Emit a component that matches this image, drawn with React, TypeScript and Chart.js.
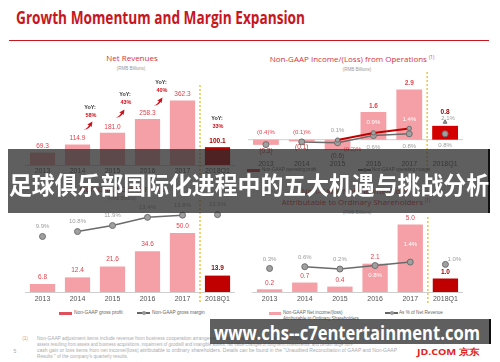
import React, { useEffect, useLayoutEffect, useRef } from 'react';
import { Chart, registerables } from 'chart.js';

Chart.register(...registerables);

const FONT = '"Liberation Sans", Arial, sans-serif';
const TITLE_FONT = '"Open Sans", "Liberation Sans", sans-serif';
Chart.defaults.font.family = FONT;

// ---------- data ----------
const YEARS = ['2013', '2014', '2015', '2016', '2017', '2018Q1'];
const NET_REVENUES = [69.3, 114.9, 181.0, 258.3, 362.3, 100.1];
const REVENUE_YOY = ['58%', '43%', '40%', '33%']; // 2015, 2016, 2017, 2018Q1
const OP_INCOME = [-0.3, -0.1, -0.6, 1.6, 2.9, 0.8];
const OP_MARGIN = [-0.4, -0.1, -0.2, 0.6, 0.8, 0.8];
const OP_MARGIN_2 = [null, null, 0.1, 0.9, 1.4, 2.1];
const GROSS_PROFIT = [6.8, 12.4, 21.6, 34.6, 50.0, 13.9];
const GROSS_MARGIN = [9.9, 10.8, 11.9, 13.4, 13.8, 13.9];
const NET_INCOME = [0.2, 0.7, 0.4, 2.1, 5.0, 1.0];
const NET_MARGIN = [0.3, 0.6, 0.2, 0.8, 1.4, 1.0];

// ---------- styles ----------
const PINK = '#f4a0a6';
const LBL_RED = '#e2434d';
const LBL_DARK = '#a00000';
const GRAY_TXT = '#9c9c9c';
const LINE_GRAY = '#6b6b6b';
const DASH = '#f2c237';
const TITLE_RED = '#c8161e';

const fmtNum = (v: number) => (v < 0 ? `(${Math.abs(v).toFixed(1)})` : v.toFixed(1));
const fmtPct = (v: number) => fmtNum(v) + '%';

function text(ctx: CanvasRenderingContext2D, s: string, x: number, y: number, color: string, size = 6.5, bold = false) {
  ctx.font = `${bold ? 'bold ' : ''}${size}px ${FONT}`;
  ctx.fillStyle = color;
  ctx.textAlign = 'center';
  ctx.textBaseline = 'middle';
  ctx.fillText(s, x, y);
}

function dashed(chart: any, top: number, bottom: number) {
  const ctx = chart.ctx;
  const x = chart.scales.x.getPixelForValue(4.5);
  ctx.save();
  ctx.strokeStyle = DASH;
  ctx.lineWidth = 1.5;
  ctx.setLineDash([2, 2]);
  ctx.beginPath();
  ctx.moveTo(x, top);
  ctx.lineTo(x, bottom);
  ctx.stroke();
  ctx.restore();
}

const seg = (color: string, hidden: number[]) => ({
  borderColor: (c: any) => (hidden.includes(c.p0DataIndex) ? 'rgba(0,0,0,0)' : color),
});

function barDs(data: number[], lastColor: string) {
  return {
    type: 'bar',
    data,
    yAxisID: 'y',
    backgroundColor: data.map((_, i) => (i === data.length - 1 ? lastColor : PINK)),
    barPercentage: 0.72,
    categoryPercentage: 1,
    order: 2,
  };
}

function lineDs(data: (number | null)[], color: string, hidden: number[], radius = 3, width = 1.5, order = 1) {
  return {
    type: 'line',
    data,
    yAxisID: 'y1',
    borderColor: color,
    borderWidth: width,
    pointRadius: radius,
    pointBackgroundColor: '#a0a0a0',
    pointBorderColor: '#6e6e6e',
    pointBorderWidth: 1,
    segment: seg(color, hidden),
    spanGaps: false,
    tension: 0,
    order,
  };
}

function config(o: any) {
  return {
    type: 'bar',
    data: { labels: YEARS, datasets: o.datasets },
    options: {
      responsive: false,
      maintainAspectRatio: false,
      animation: false,
      layout: { padding: 0, autoPadding: false },
      plugins: { legend: { display: false }, tooltip: { enabled: false }, title: { display: false } },
      scales: {
        x: {
          display: true,
          grid: { display: false, drawTicks: false },
          border: { display: o.border, color: '#cfcfcf', width: 1 },
          ticks: { color: '#555', font: { size: 7, family: FONT }, padding: o.tickPad, maxRotation: 0, autoSkip: false },
          afterFit: (s: any) => {
            s.height = o.axisH;
          },
        },
        y: { display: false, min: o.yMin, max: o.yMax },
        y1: { display: false, min: o.y1Min ?? 0, max: o.y1Max ?? 1, position: 'right' },
      },
    },
    plugins: o.plugins,
  };
}

// ---------- chart configs ----------
const topLeftConfig = () =>
  config({
    datasets: [barDs(NET_REVENUES, '#b80000')],
    yMin: 0,
    yMax: 505,
    axisH: 14,
    tickPad: 2,
    border: true,
    plugins: [
      {
        id: 'tlLabels',
        afterDatasetsDraw(chart: any) {
          const ctx = chart.ctx;
          ctx.save();
          dashed(chart, 10, chart.height);
          chart.getDatasetMeta(0).data.forEach((b: any, i: number) => {
            const last = i === 5;
            text(ctx, fmtNum(NET_REVENUES[i]), b.x, b.y - 6, last ? LBL_DARK : LBL_RED, 6.5, last);
          });
          ctx.restore();
        },
      },
    ],
  });

const OPM_OFF = [[0, -12], [0, -10], [15, 7], [0, 12], [0, 13], [0, 12]];
const OPM2_OFF = [null, null, [0, -10], [0, -11], [0, -9], [3, -4]];

const topRightConfig = () =>
  config({
    datasets: [
      barDs(OP_INCOME, '#d40000'),
      lineDs(OP_MARGIN, LINE_GRAY, [0, 4], 3, 1.5, 1),
      { ...lineDs(OP_MARGIN_2, '#c00000', [4], 2.2, 2, 0), pointStyle: ['circle', 'circle', 'circle', 'circle', 'circle', 'triangle'] },
    ],
    yMin: -1.06,
    yMax: 4.03,
    y1Min: -1.889,
    y1Max: 7.889,
    axisH: 14,
    tickPad: 2,
    border: false,
    plugins: [
      {
        id: 'trZero',
        beforeDatasetsDraw(chart: any) {
          const ctx = chart.ctx;
          const y = chart.scales.y.getPixelForValue(0);
          ctx.save();
          ctx.strokeStyle = '#cfcfcf';
          ctx.lineWidth = 1;
          ctx.beginPath();
          ctx.moveTo(chart.chartArea.left, y);
          ctx.lineTo(chart.chartArea.right, y);
          ctx.stroke();
          ctx.restore();
        },
      },
      {
        id: 'trLabels',
        afterDatasetsDraw(chart: any) {
          const ctx = chart.ctx;
          ctx.save();
          dashed(chart, 2, 100);
          chart.getDatasetMeta(0).data.forEach((b: any, i: number) => {
            const v = OP_INCOME[i];
            const last = i === 5;
            if (v < 0) text(ctx, fmtNum(v), b.x, b.y + 6, '#b53838', 6.5, false);
            else text(ctx, fmtNum(v), b.x, b.y - (last ? 14 : 6), last ? LBL_DARK : LBL_RED, 6.5, true);
          });
          chart.getDatasetMeta(1).data.forEach((p: any, i: number) => {
            const v = OP_MARGIN[i];
            const [dx, dy] = OPM_OFF[i];
            text(ctx, fmtPct(v), p.x + dx, p.y + dy, v < 0 ? LBL_RED : GRAY_TXT, 6);
          });
          chart.getDatasetMeta(2).data.forEach((p: any, i: number) => {
            const v = OP_MARGIN_2[i];
            const off = OPM2_OFF[i];
            if (v === null || !off) return;
            text(ctx, fmtPct(v), p.x + off[0], p.y + off[1], i === 3 || i === 4 ? '#ffffff' : GRAY_TXT, 6);
          });
          ctx.restore();
        },
      },
    ],
  });

const bottomLeftConfig = () =>
  config({
    datasets: [barDs(GROSS_PROFIT, '#c00000'), lineDs(GROSS_MARGIN, LINE_GRAY, [0, 4], 3, 1.5, 1)],
    yMin: 0,
    yMax: 78,
    y1Min: -0.266,
    y1Max: 16.58,
    axisH: 12,
    tickPad: 3,
    border: true,
    plugins: [
      {
        id: 'blLabels',
        afterDatasetsDraw(chart: any) {
          const ctx = chart.ctx;
          ctx.save();
          dashed(chart, 0, 103);
          chart.getDatasetMeta(0).data.forEach((b: any, i: number) => {
            const last = i === 5;
            text(ctx, fmtNum(GROSS_PROFIT[i]), b.x, b.y - 7, last ? LBL_DARK : LBL_RED, 6.5, last);
          });
          chart.getDatasetMeta(1).data.forEach((p: any, i: number) => {
            text(ctx, fmtPct(GROSS_MARGIN[i]), p.x, p.y - 10, GRAY_TXT, 6);
          });
          ctx.restore();
        },
      },
    ],
  });

const NM_OFF = [[0, -9.5], [0, -9], [0, -10], [0, 10], [0, -18], [9, -5]];

const bottomRightConfig = () =>
  config({
    datasets: [barDs(NET_INCOME, '#c00000'), lineDs(NET_MARGIN, LINE_GRAY, [0, 4], 3, 1.5, 1)],
    yMin: 0,
    yMax: 5.78,
    y1Min: -3.76,
    y1Max: 9.69,
    axisH: 12,
    tickPad: 3,
    border: true,
    plugins: [
      {
        id: 'brLabels',
        afterDatasetsDraw(chart: any) {
          const ctx = chart.ctx;
          ctx.save();
          dashed(chart, 3, 89);
          chart.getDatasetMeta(0).data.forEach((b: any, i: number) => {
            const last = i === 5;
            text(ctx, fmtNum(NET_INCOME[i]), b.x, b.y - 6, last ? LBL_DARK : LBL_RED, 6.5, last);
          });
          chart.getDatasetMeta(1).data.forEach((p: any, i: number) => {
            const [dx, dy] = NM_OFF[i];
            text(ctx, fmtPct(NET_MARGIN[i]), p.x + dx, p.y + dy, i === 3 || i === 4 ? '#ffffff' : GRAY_TXT, 6);
          });
          ctx.restore();
        },
      },
    ],
  });

// ---------- components ----------
function MiniChart({ left, top, width, height, make }: any) {
  const ref = useRef<HTMLCanvasElement>(null);
  useEffect(() => {
    const chart = new Chart(ref.current as HTMLCanvasElement, make() as any);
    return () => chart.destroy();
  }, []);
  return <canvas ref={ref} width={width} height={height} style={{ position: 'absolute', left, top, width, height }} />;
}

function T({ x, y, s = 6, c = '#444', b = false, al = 'c', f = FONT, children, z }: any) {
  return (
    <div
      style={{
        position: 'absolute',
        left: x,
        top: y,
        fontSize: s,
        color: c,
        fontWeight: b ? 700 : 400,
        fontFamily: f,
        whiteSpace: 'nowrap',
        lineHeight: 1,
        transform: al === 'c' ? 'translate(-50%,-50%)' : 'translate(0,-50%)',
        zIndex: z,
      }}
    >
      {children}
    </div>
  );
}

function Fit({ x, y, w, s, c = '#444', b = false, f = FONT, children, z }: any) {
  const ref = useRef<HTMLDivElement>(null);
  useLayoutEffect(() => {
    const el = ref.current;
    if (!el) return;
    el.style.transform = 'translate(0,-50%)';
    const nat = el.getBoundingClientRect().width;
    if (nat > 0) el.style.transform = `translate(0,-50%) scaleX(${w / nat})`;
  }, []);
  return (
    <div
      ref={ref}
      style={{
        position: 'absolute',
        left: x,
        top: y,
        fontSize: s,
        color: c,
        fontWeight: b ? 700 : 400,
        fontFamily: f,
        whiteSpace: 'nowrap',
        lineHeight: 1,
        transformOrigin: '0 50%',
        zIndex: z,
      }}
    >
      {children}
    </div>
  );
}

function Arrow({ x, y }: any) {
  return (
    <svg width={10} height={9} style={{ position: 'absolute', left: x - 5, top: y - 4.5 }} viewBox="0 0 10 9">
      <path d="M0.5 8.5 C3 8 5 6.5 6 4 L4.2 3.4 L9.5 0.5 L8.6 6 L7.4 4.9 C6.2 7.2 3.8 8.8 0.5 8.5 Z" fill="#d0101a" />
    </svg>
  );
}

function LegendLine({ x, y }: any) {
  return (
    <div style={{ position: 'absolute', left: x, top: y - 0.6, width: 13, height: 1.2, background: '#666' }}>
      <div style={{ position: 'absolute', left: 5, top: -1.2, width: 3.6, height: 3.6, borderRadius: 2, background: '#999' }} />
    </div>
  );
}

function Yoy({ x, y, pct, ax, ay }: any) {
  return (
    <>
      <T x={x} y={y} s={5.5} c="#333" b>
        YoY:
      </T>
      <T x={x + 1} y={y + 8} s={5.5} c="#d0101a" b>
        {pct}
      </T>
      {ax !== undefined && <Arrow x={ax} y={ay} />}
    </>
  );
}

export default function App() {
  useEffect(() => {
    document.body.style.margin = '0';
  }, []);
  return (
    <div style={{ position: 'absolute', left: 0, top: 0, width: 500, height: 362, overflow: 'hidden', background: '#fff' }}>
      {/* header */}
      <Fit x={16} y={17} w={289} s={17} c={TITLE_RED} b f={TITLE_FONT}>
        Growth Momentum and Margin Expansion
      </Fit>
      <div style={{ position: 'absolute', left: 9, top: 39.5, width: 480, height: 1.5, background: TITLE_RED }} />

      {/* titles */}
      <T x={132} y={58} s={8} c="#d8343c" f={TITLE_FONT}>
        Net Revenues
      </T>
      <T x={131} y={69} s={4.5} c="#999">
        (RMB Billions)
      </T>
      <T x={352} y={59} s={8} c="#d8343c" f={TITLE_FONT}>
        Non-GAAP Income/(Loss) from Operations <sup style={{ fontSize: 4.5 }}>(1)</sup>
      </T>
      <T x={357} y={70} s={4.5} c="#999">
        (RMB Billions)
      </T>
      <T x={122} y={189} s={8} c="#d8343c" f={TITLE_FONT}>
        Non-GAAP Gross Profit
      </T>
      <T x={122} y={199} s={4.5} c="#999">
        (RMB Billions)
      </T>
      <T x={356} y={191} s={8} c="#d8343c" f={TITLE_FONT}>
        Non-GAAP Net Income/(Loss)
      </T>
      <T x={356} y={202} s={8} c="#d8343c" f={TITLE_FONT}>
        Attributable to Ordinary Shareholders <sup style={{ fontSize: 4.5 }}>(1)</sup>
      </T>
      <T x={357} y={212.5} s={4.5} c="#999">
        (RMB Billions)
      </T>

      {/* charts */}
      <MiniChart left={25} top={75} width={210} height={104} make={topLeftConfig} />
      <MiniChart left={248} top={70} width={215} height={102} make={topRightConfig} />
      <MiniChart left={25} top={200} width={210} height={104} make={bottomLeftConfig} />
      <MiniChart left={252} top={214} width={211} height={90} make={bottomRightConfig} />

      {/* YoY annotations */}
      <Yoy x={90} y={108} pct={REVENUE_YOY[0]} ax={88} ay={125} />
      <Yoy x={125} y={95} pct={REVENUE_YOY[1]} ax={120} ay={113} />
      <Yoy x={161} y={83} pct={REVENUE_YOY[2]} ax={158} ay={101} />
      <Yoy x={217} y={119} pct={REVENUE_YOY[3]} />

      {/* legends */}
      <div style={{ position: 'absolute', left: 247, top: 168.5, width: 13, height: 3, background: '#e0303a' }} />
      <T x={262} y={170} s={4.6} c="#666" al="l">
        Non-GAAP operating profit
      </T>
      <LegendLine x={358} y={170} />
      <T x={372} y={170} s={4.6} c="#666" al="l">
        Non-GAAP operating margin
      </T>

      <div style={{ position: 'absolute', left: 59, top: 311.5, width: 13, height: 3, background: '#e0505c' }} />
      <T x={74} y={313} s={4.8} c="#666" al="l">
        Non-GAAP gross profit
      </T>
      <LegendLine x={137} y={313} />
      <T x={152} y={313} s={4.8} c="#666" al="l">
        Non-GAAP gross margin
      </T>

      <div style={{ position: 'absolute', left: 269, top: 311.5, width: 12, height: 3, background: PINK }} />
      <T x={283} y={313} s={4.6} c="#666" al="l">
        Non-GAAP Net income/(loss)
      </T>
      <T x={283} y={319} s={4.6} c="#666" al="l">
        Attributable to Ordinary Shareholders
      </T>
      <LegendLine x={385} y={313} />
      <T x={399} y={313} s={4.6} c="#666" al="l">
        As % of Net Revenue
      </T>

      {/* footnote */}
      <T x={25} y={338.5} s={4.7} c="#aaa">
        (1)
      </T>
      <T x={15} y={350.5} s={5} c="#aaa">
        5
      </T>
      <Fit x={37} y={338.5} w={300} s={4.7} c="#aaa">
        Non-GAAP adjustment items include revenue from business cooperation arrangement, share-based compensation, amortization of intangible
      </Fit>
      <Fit x={37} y={344.5} w={316} s={4.7} c="#aaa">
        assets resulting from assets and business acquisitions, impairment of goodwill and intangible assets, fair value changes of long-term investments, and certain large non-
      </Fit>
      <Fit x={37} y={350.5} w={360} s={4.7} c="#aaa">
        cash gain or loss items from net income/(loss) attributable to ordinary shareholders. Details can be found in the "Unaudited Reconciliation of GAAP and Non-GAAP
      </Fit>
      <T x={37} y={356.5} s={4.7} c="#aaa" al="l">
        Results " of the company's quarterly results.
      </T>
      <Fit x={417} y={351} w={63} s={9} c="#e1251b" b f={TITLE_FONT}>
        JD.COM 京东
      </Fit>

      {/* overlay banners */}
      <div
        style={{
          position: 'absolute',
          left: 8,
          top: 149,
          width: 482,
          height: 64,
          background: 'rgba(45,45,45,0.76)',
          borderRight: '2px solid #111',
          boxSizing: 'border-box',
          zIndex: 10,
        }}
      />
      <Fit x={9} y={184} w={480} s={24} c="#fff" b f='"Noto Sans CJK SC", sans-serif' z={11}>
        足球俱乐部国际化进程中的五大机遇与挑战分析
      </Fit>
      <div
        style={{
          position: 'absolute',
          left: 210,
          top: 319,
          width: 281,
          height: 25,
          background: 'rgba(45,45,45,0.76)',
          borderRight: '2px solid #111',
          boxSizing: 'border-box',
          zIndex: 10,
        }}
      />
      <Fit x={214} y={333} w={266} s={19} c="#fff" b f={TITLE_FONT} z={11}>
        www.chs--c7entertainment.com
      </Fit>
    </div>
  );
}
